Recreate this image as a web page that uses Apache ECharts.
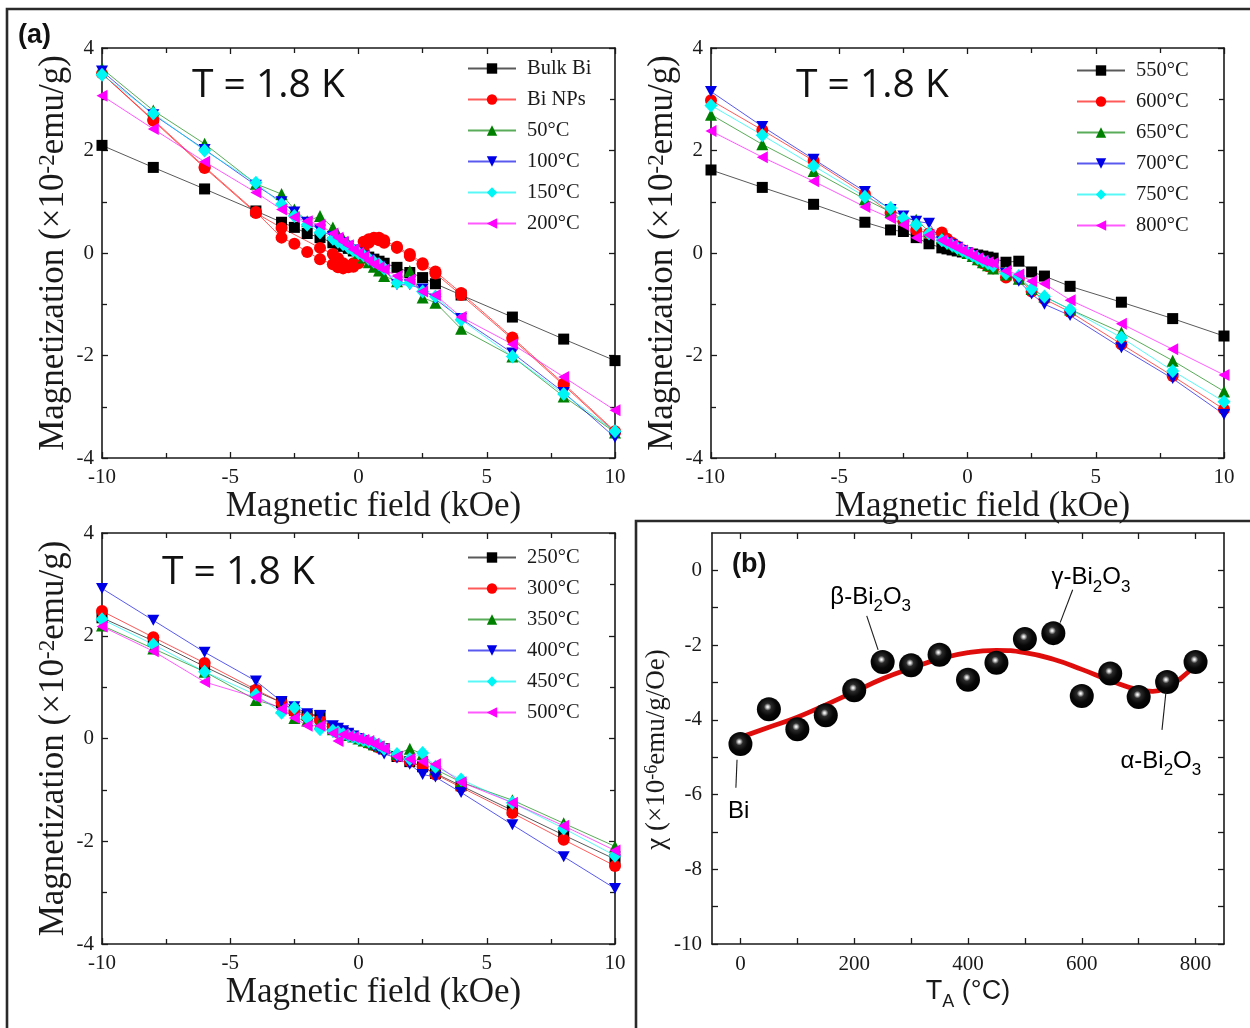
<!DOCTYPE html>
<html>
<head>
<meta charset="utf-8">
<script src="https://cdn.jsdelivr.net/npm/echarts@6/dist/echarts.min.js"></script>
<style>
  html, body { margin: 0; padding: 0; background: #fff; }
  #chart { width: 1250px; height: 1028px; }
</style>
</head>
<body>
<div id="chart"></div>
<script>
// ---- Magnetic field sweep points (kOe) ----
const field = [-10, -8, -6, -4, -3, -2.5, -2, -1.5, -1, -0.8, -0.6, -0.4, -0.2, 0, 0.2, 0.4, 0.6, 0.8, 1, 1.5, 2, 2.5, 3, 4, 6, 8, 10];

// ---- Panel 1: bulk, nanoparticles, 50-200 °C (×10^-2 emu/g) ----
const bulkBi = [2.10, 1.67, 1.25, 0.82, 0.60, 0.50, 0.38, 0.30, 0.20, 0.17, 0.13, 0.09, 0.04, 0.00, -0.04, -0.08, -0.12, -0.16, -0.20, -0.28, -0.38, -0.48, -0.60, -0.82, -1.25, -1.68, -2.10];
// Bi NPs: field swept down then back up
const biNPsField = [10, 8, 6, 4, 3, 2.5, 2, 1.5, 1, 0.8, 0.6, 0.4, 0.2, 0, -0.2, -0.4, -0.6, -0.8, -1, -1.5, -2, -2.5, -3, -4, -6, -8, -10,
                    -8, -6, -4, -3, -1.5, -1, -0.8, -0.6, -0.4, -0.2, 0, 0.2, 0.4, 0.6, 0.8, 1, 1.5, 2, 2.5, 3, 4, 6, 8, 10];
const biNPs = [-3.50, -2.58, -1.68, -0.82, -0.40, -0.23, -0.06, 0.10, 0.20, 0.25, 0.28, 0.27, 0.22, 0.05, -0.20, -0.28, -0.30, -0.28, -0.22, -0.12, 0.02, 0.18, 0.30, 0.80, 1.68, 2.60, 3.50,
               2.58, 1.66, 0.78, 0.49, 0.10, -0.02, -0.10, -0.20, -0.26, -0.27, -0.20, 0.05, 0.20, 0.30, 0.30, 0.25, 0.12, -0.02, -0.20, -0.36, -0.78, -1.65, -2.55, -3.48];
const ta50  = [3.60, 2.78, 2.13, 1.35, 1.15, 0.85, 0.62, 0.72, 0.50, 0.36, 0.28, 0.18, 0.09, 0.00, -0.09, -0.18, -0.27, -0.34, -0.45, -0.55, -0.35, -0.87, -0.97, -1.48, -2.02, -2.80, -3.50];
const ta100 = [3.55, 2.70, 2.02, 1.32, 1.00, 0.80, 0.60, 0.45, 0.32, 0.26, 0.20, 0.13, 0.06, 0.00, -0.06, -0.13, -0.20, -0.26, -0.32, -0.62, -0.62, -0.70, -0.90, -1.28, -1.95, -2.72, -3.60];
const ta150 = [3.48, 2.72, 2.00, 1.37, 0.95, 0.72, 0.55, 0.40, 0.28, 0.22, 0.17, 0.11, 0.05, 0.00, -0.05, -0.11, -0.17, -0.22, -0.30, -0.58, -0.58, -0.75, -0.85, -1.30, -2.02, -2.75, -3.48];
const ta200 = [3.07, 2.42, 1.78, 1.18, 0.85, 0.70, 0.62, 0.55, 0.38, 0.30, 0.22, 0.15, 0.07, 0.00, -0.07, -0.15, -0.22, -0.28, -0.32, -0.45, -0.52, -0.75, -0.82, -1.25, -1.78, -2.42, -3.07];

// ---- Panel 2: 550-800 °C ----
const ta550 = [1.62, 1.28, 0.95, 0.60, 0.45, 0.42, 0.30, 0.18, 0.10, 0.08, 0.06, 0.04, 0.02, 0.00, -0.02, -0.04, -0.06, -0.08, -0.10, -0.18, -0.16, -0.37, -0.45, -0.65, -0.96, -1.28, -1.62];
const ta600 = [2.98, 2.40, 1.80, 1.15, 0.78, 0.62, 0.45, 0.38, 0.40, 0.28, 0.20, 0.13, 0.06, 0.00, -0.06, -0.13, -0.20, -0.26, -0.30, -0.48, -0.50, -0.75, -0.90, -1.15, -1.78, -2.40, -3.05];
const ta650 = [2.70, 2.12, 1.60, 1.05, 0.80, 0.65, 0.65, 0.42, 0.30, 0.24, 0.18, 0.12, 0.06, 0.00, -0.06, -0.12, -0.18, -0.24, -0.30, -0.42, -0.50, -0.70, -0.85, -1.10, -1.55, -2.10, -2.70];
const ta700 = [3.15, 2.47, 1.83, 1.20, 0.85, 0.72, 0.62, 0.58, 0.22, 0.20, 0.16, 0.11, 0.05, 0.00, -0.05, -0.11, -0.16, -0.20, -0.25, -0.40, -0.55, -0.80, -1.00, -1.22, -1.85, -2.45, -3.15];
const ta750 = [2.88, 2.30, 1.70, 1.10, 0.88, 0.68, 0.55, 0.38, 0.25, 0.20, 0.15, 0.10, 0.05, 0.00, -0.05, -0.10, -0.15, -0.20, -0.25, -0.40, -0.45, -0.70, -0.85, -1.10, -1.65, -2.30, -2.90];
const ta800 = [2.38, 1.87, 1.40, 0.90, 0.68, 0.55, 0.30, 0.35, 0.25, 0.20, 0.15, 0.10, 0.05, 0.00, -0.05, -0.10, -0.15, -0.18, -0.20, -0.35, -0.42, -0.55, -0.60, -0.92, -1.38, -1.88, -2.38];

// ---- Panel 3: 250-500 °C ----
const ta250 = [2.35, 1.90, 1.40, 0.92, 0.70, 0.55, 0.45, 0.45, 0.20, 0.16, 0.12, 0.08, 0.04, 0.00, -0.04, -0.08, -0.12, -0.16, -0.20, -0.35, -0.45, -0.55, -0.68, -0.92, -1.40, -1.88, -2.35];
const ta300 = [2.48, 1.97, 1.47, 0.95, 0.70, 0.52, 0.42, 0.35, 0.22, 0.18, 0.13, 0.09, 0.04, 0.00, -0.04, -0.09, -0.13, -0.18, -0.22, -0.35, -0.45, -0.55, -0.70, -0.95, -1.45, -1.97, -2.48];
const ta350 = [2.20, 1.75, 1.30, 0.75, 0.60, 0.40, 0.35, 0.30, 0.18, 0.14, 0.11, 0.07, 0.04, 0.00, -0.04, -0.07, -0.11, -0.14, -0.18, -0.30, -0.20, -0.30, -0.60, -0.85, -1.20, -1.65, -2.10];
const ta400 = [2.92, 2.30, 1.68, 1.12, 0.72, 0.62, 0.48, 0.45, 0.25, 0.20, 0.15, 0.10, 0.05, 0.00, -0.05, -0.10, -0.15, -0.22, -0.30, -0.38, -0.50, -0.70, -0.75, -1.05, -1.68, -2.30, -2.92];
const ta450 = [2.32, 1.83, 1.30, 0.85, 0.50, 0.60, 0.40, 0.18, 0.15, 0.12, 0.09, 0.06, 0.03, 0.00, -0.03, -0.06, -0.09, -0.12, -0.20, -0.30, -0.40, -0.28, -0.55, -0.80, -1.25, -1.75, -2.28];
const ta500 = [2.18, 1.70, 1.10, 0.80, 0.58, 0.40, 0.25, 0.25, 0.10, -0.05, 0.08, 0.05, 0.03, 0.00, -0.03, -0.05, -0.10, -0.15, -0.20, -0.35, -0.40, -0.45, -0.50, -0.85, -1.25, -1.70, -2.18];

// ---- Panel (b): susceptibility vs annealing temperature ----
const annealT = [0, 50, 100, 150, 200, 250, 300, 350, 400, 450, 500, 550, 600, 650, 700, 750, 800];
const chi     = [-4.65, -3.72, -4.25, -3.88, -3.21, -2.45, -2.54, -2.26, -2.93, -2.47, -1.84, -1.68, -3.36, -2.76, -3.39, -2.99, -2.45];
const fitT    = [0, 50, 100, 150, 200, 250, 300, 350, 400, 450, 500, 550, 600, 650, 700, 725, 750, 775, 800];
const fitChi  = [-4.47, -4.20, -3.93, -3.60, -3.25, -2.90, -2.62, -2.37, -2.20, -2.14, -2.20, -2.38, -2.65, -2.95, -3.20, -3.24, -3.12, -2.88, -2.52];

// Phase labels: [text key, label centre (T, chi), arrow tail, arrow head]
const phaseNotes = [
  ['beta',  [229, -0.63], [222, -1.22], [242, -2.13]],
  ['gamma', [616, -0.12], [584, -0.52], [562, -1.40]],
  ['alpha', [739, -5.02], [741, -4.27], [748, -3.25]],
  ['bi',    [-3, -6.36],  [-8, -5.82],  [-6, -5.07]]
];

// ---- Styling ----
const SERIF = '"Liberation Serif", "Times New Roman", serif';
const SANS = '"Liberation Sans", Arial, sans-serif';
const INK = '#1a1a1a';

const markers = [
  { symbol: 'rect', size: 11, color: '#000000' },
  { symbol: 'circle', size: 12, color: '#ff0000' },
  { symbol: 'triangle', size: 12, color: '#008000' },
  { symbol: 'path://M0,0L10,0L5,9Z', size: [12, 11], color: '#0000e6' },
  { symbol: 'diamond', size: [13, 14], color: '#00f5f5' },
  { symbol: 'path://M0,5L9,0L9,10Z', size: [11, 12], color: '#ff00ff' }
];

const panels = [
  { names: ['Bulk Bi', 'Bi NPs', '50°C', '100°C', '150°C', '200°C'],
    xs: [field, biNPsField, field, field, field, field],
    ys: [bulkBi, biNPs, ta50, ta100, ta150, ta200] },
  { names: ['550°C', '600°C', '650°C', '700°C', '750°C', '800°C'],
    xs: [field, field, field, field, field, field],
    ys: [ta550, ta600, ta650, ta700, ta750, ta800] },
  { names: ['250°C', '300°C', '350°C', '400°C', '450°C', '500°C'],
    xs: [field, field, field, field, field, field],
    ys: [ta250, ta300, ta350, ta400, ta450, ta500] }
];

const grids = [
  { left: 102, top: 48, width: 513, height: 410 },
  { left: 711, top: 48, width: 513, height: 410 },
  { left: 102, top: 533, width: 513, height: 411 },
  { left: 712, top: 533, width: 512, height: 411 }
];

const axisLineStyle = { color: INK, width: 1.6 };
const tickStyle = { color: INK, width: 1.3 };

// rich styles: superscript sits high, subscript is pushed down by top padding
const supStyle = (size, lh) => ({ fontFamily: SERIF, fontSize: size, color: INK, verticalAlign: 'top', lineHeight: lh });

function magXAxis(gridIndex, position) {
  const bottom = position === 'bottom';
  return {
    type: 'value', gridIndex, position, min: -10, max: 10, interval: 5,
    axisLine: { show: true, onZero: false, lineStyle: axisLineStyle },
    axisTick: { show: true, inside: true, length: 6, lineStyle: tickStyle },
    minorTick: { show: true, splitNumber: 2, length: 5, lineStyle: tickStyle },
    splitLine: { show: false }, minorSplitLine: { show: false },
    axisLabel: { show: bottom, color: INK, fontFamily: SERIF, fontSize: 21, margin: 9 },
    name: bottom ? 'Magnetic field (kOe)' : '',
    nameLocation: 'middle', nameGap: 31,
    nameTextStyle: { color: INK, fontFamily: SERIF, fontSize: 35, padding: [0, 0, 0, 30] }
  };
}

function magYAxis(gridIndex, position) {
  const left = position === 'left';
  return {
    type: 'value', gridIndex, position, min: -4, max: 4, interval: 2,
    axisLine: { show: true, onZero: false, lineStyle: axisLineStyle },
    axisTick: { show: true, inside: true, length: 6, lineStyle: tickStyle },
    minorTick: { show: true, splitNumber: 2, length: 5, lineStyle: tickStyle },
    splitLine: { show: false }, minorSplitLine: { show: false },
    axisLabel: { show: left, color: INK, fontFamily: SERIF, fontSize: 21, margin: 8 },
    name: left ? 'Magnetization (×10{sup|-2}emu/g)' : '',
    nameLocation: 'middle', nameRotate: 90, nameGap: 31,
    nameTextStyle: {
      color: INK, fontFamily: SERIF, fontSize: 35, lineHeight: 35,
      rich: { sup: supStyle(23, 15) }
    }
  };
}

const tTicks = [0, 100, 200, 300, 400, 500, 600, 700, 800];
const chiTicks = [-10, -9, -8, -7, -6, -5, -4, -3, -2, -1, 0];

function chiXAxis(position) {
  const bottom = position === 'bottom';
  return {
    type: 'value', gridIndex: 3, position, min: -50, max: 850,
    axisLine: { show: true, onZero: false, lineStyle: axisLineStyle },
    axisTick: { show: true, inside: true, length: 6, lineStyle: tickStyle, customValues: tTicks },
    splitLine: { show: false },
    axisLabel: { show: bottom, color: INK, fontFamily: SERIF, fontSize: 21, margin: 10,
                 customValues: [0, 200, 400, 600, 800] },
    name: bottom ? '{n|T}{s|A}{n| (°C)}' : '',
    nameLocation: 'middle', nameGap: 34,
    nameTextStyle: {
      color: INK, fontFamily: SANS, fontSize: 27,
      rich: {
        n: { fontFamily: SANS, fontSize: 27, lineHeight: 27, color: INK, verticalAlign: 'top' },
        s: { fontFamily: SANS, fontSize: 18, lineHeight: 18, color: INK, verticalAlign: 'top', padding: [15, 0, 0, 0] }
      }
    }
  };
}

function chiYAxis(position) {
  const left = position === 'left';
  return {
    type: 'value', gridIndex: 3, position, min: -10, max: 1,
    axisLine: { show: true, onZero: false, lineStyle: axisLineStyle },
    axisTick: { show: true, inside: true, length: 6, lineStyle: tickStyle, customValues: chiTicks },
    splitLine: { show: false },
    axisLabel: { show: left, color: INK, fontFamily: SERIF, fontSize: 21, margin: 10,
                 customValues: [-10, -8, -6, -4, -2, 0] },
    name: left ? 'χ (×10{sup|-6}emu/g/Oe)' : '',
    nameLocation: 'middle', nameRotate: 90, nameGap: 36,
    nameTextStyle: {
      color: INK, fontFamily: SERIF, fontSize: 27, lineHeight: 27,
      padding: [0, 22, 0, 0],
      rich: { sup: supStyle(18, 12) }
    }
  };
}

const xAxes = [], yAxes = [], series = [], legends = [];
const legendSpots = [{ left: 467, top: 58 }, { left: 1076, top: 60 }, { left: 467, top: 547 }];

panels.forEach((p, pi) => {
  xAxes.push(magXAxis(pi, 'bottom'), magXAxis(pi, 'top'));
  yAxes.push(magYAxis(pi, 'left'), magYAxis(pi, 'right'));
  p.names.forEach((name, si) => {
    const m = markers[si];
    series.push({
      type: 'line', name,
      xAxisIndex: pi * 2, yAxisIndex: pi * 2,
      data: p.xs[si].map((x, k) => [x, p.ys[si][k]]),
      symbol: m.symbol, symbolSize: m.size, showAllSymbol: true,
      itemStyle: { color: m.color, borderWidth: 0 },
      lineStyle: { color: m.color, width: 1, opacity: 0.65 },
      clip: true, animation: false
    });
  });
  legends.push({
    data: p.names, orient: 'vertical', left: legendSpots[pi].left, top: legendSpots[pi].top,
    padding: 0, itemWidth: 48, itemHeight: 13, itemGap: 10, selectedMode: false,
    textStyle: { color: INK, fontFamily: SERIF, fontSize: 20.5, lineHeight: 21, padding: [0, 0, 0, 6] }
  });
});

xAxes.push(chiXAxis('bottom'), chiXAxis('top'));
yAxes.push(chiYAxis('left'), chiYAxis('right'));

// Fitted trend
series.push({
  type: 'line', name: 'fit', xAxisIndex: 6, yAxisIndex: 6,
  data: fitT.map((t, k) => [t, fitChi[k]]),
  smooth: 0.5, showSymbol: false, symbol: 'none',
  lineStyle: { color: '#e00d0d', width: 4.8 }, z: 2, animation: false
});

// Measured susceptibility (glossy black spheres) with arrows to phase labels
series.push({
  type: 'scatter', name: 'chi', xAxisIndex: 6, yAxisIndex: 6,
  data: annealT.map((t, k) => [t, chi[k]]),
  symbol: 'circle', symbolSize: 24,
  itemStyle: {
    opacity: 1,
    color: {
      type: 'radial', x: 0.45, y: 0.4, r: 0.6,
      colorStops: [
        { offset: 0, color: '#ffffff' },
        { offset: 0.08, color: '#d6d6d6' },
        { offset: 0.26, color: '#2a2a2a' },
        { offset: 0.6, color: '#080808' },
        { offset: 1, color: '#000000' }
      ]
    }
  },
  z: 3, animation: false,
  markLine: {
    silent: true, animation: false,
    symbol: ['none', 'arrow'], symbolSize: [0, 9],
    lineStyle: { color: INK, width: 1.1, type: 'solid' },
    label: { show: false },
    data: phaseNotes.map(n => [{ coord: n[2] }, { coord: n[3] }])
  }
});

const chart = echarts.init(document.getElementById('chart'));
chart.setOption({
  animation: false,
  backgroundColor: '#ffffff',
  grid: grids,
  xAxis: xAxes,
  yAxis: yAxes,
  legend: legends,
  series
});

// Text and frame decorations
const subRich = {
  n: { fontFamily: SANS, fontSize: 24, lineHeight: 24, color: INK, verticalAlign: 'top' },
  s: { fontFamily: SANS, fontSize: 17, lineHeight: 17, color: INK, verticalAlign: 'top', padding: [13, 0, 0, 0] }
};
const noteText = {
  beta: '{n|β-Bi}{s|2}{n|O}{s|3}',
  gamma: '{n|γ-Bi}{s|2}{n|O}{s|3}',
  alpha: '{n|α-Bi}{s|2}{n|O}{s|3}',
  bi: '{n|Bi}'
};
const tempFont = '"Open Sans", sans-serif';
const graphics = [
  { type: 'polyline', shape: { points: [[7, 1030], [7, 9], [1252, 9]] },
    style: { stroke: '#2a2a2a', lineWidth: 2.6, fill: null } },
  { type: 'polyline', shape: { points: [[636, 1030], [636, 521], [1252, 521]] },
    style: { stroke: '#2a2a2a', lineWidth: 2.6, fill: null } },
  { type: 'text', left: 18, top: 22, style: { text: '(a)', fontFamily: SANS, fontWeight: 'bold', fontSize: 27, fill: '#111' } },
  { type: 'text', left: 732, top: 551, style: { text: '(b)', fontFamily: SANS, fontWeight: 'bold', fontSize: 27, fill: '#111' } },
  { type: 'text', left: 192, top: 66, style: { text: 'T = 1.8 K', fontFamily: tempFont, fontSize: 39, fill: '#111' } },
  { type: 'text', left: 796, top: 66, style: { text: 'T = 1.8 K', fontFamily: tempFont, fontSize: 39, fill: '#111' } },
  { type: 'text', left: 162, top: 553, style: { text: 'T = 1.8 K', fontFamily: tempFont, fontSize: 39, fill: '#111' } }
];
phaseNotes.forEach(n => {
  const pt = chart.convertToPixel({ gridIndex: 3 }, n[1]);
  graphics.push({
    type: 'text', x: pt[0], y: pt[1] + 3, z: 10,
    style: { text: noteText[n[0]], rich: subRich, align: 'center', verticalAlign: 'middle' }
  });
});
chart.setOption({ graphic: graphics });
</script>
</body>
</html>
